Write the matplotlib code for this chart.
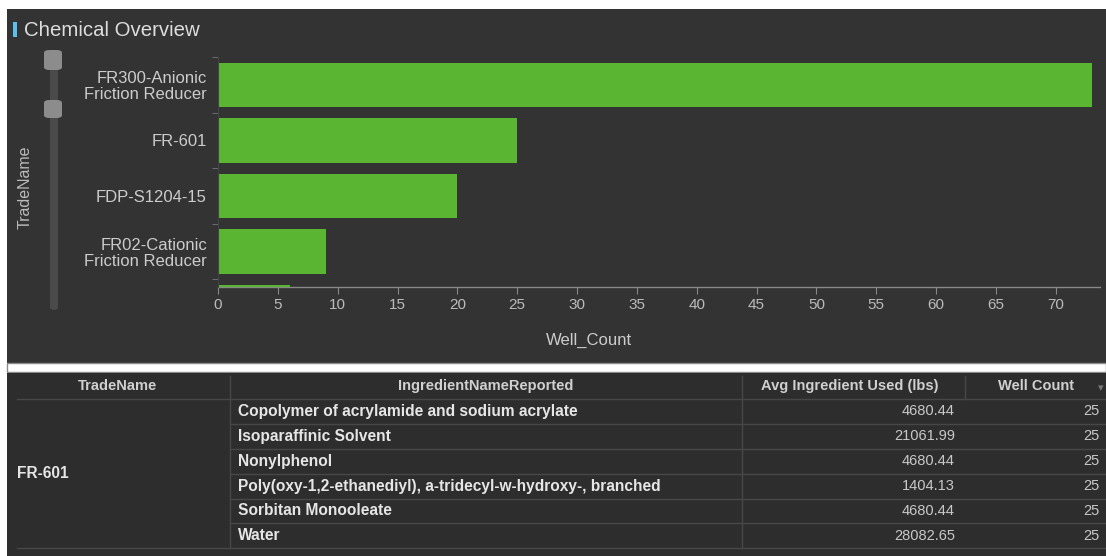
import matplotlib
matplotlib.use("Agg")
import matplotlib.pyplot as plt
from matplotlib.patches import Rectangle, FancyBboxPatch
from matplotlib.lines import Line2D

# ---------------- data ----------------
trade_names = ["FR300-Anionic\nFriction Reducer", "FR-601", "FDP-S1204-15",
               "FR02-Cationic\nFriction Reducer", "Other"]
well_counts = [73, 25, 20, 9, 6]
x_ticks = [0, 5, 10, 15, 20, 25, 30, 35, 40, 45, 50, 55, 60, 65, 70]

table_headers = ["TradeName", "IngredientNameReported", "Avg Ingredient Used (lbs)", "Well Count"]
table_trade = "FR-601"
ingredients = ["Copolymer of acrylamide and sodium acrylate",
               "Isoparaffinic Solvent",
               "Nonylphenol",
               "Poly(oxy-1,2-ethanediyl), a-tridecyl-w-hydroxy-, branched",
               "Sorbitan Monooleate",
               "Water"]
avg_used = ["4680.44", "21061.99", "4680.44", "1404.13", "4680.44", "28082.65"]
row_well_counts = ["25", "25", "25", "25", "25", "25"]

# ---------------- layout helpers ----------------
W, H = 1106, 556
fig = plt.figure(figsize=(W / 100, H / 100), dpi=100)
fig.patch.set_facecolor("white")
plt.rcParams["font.family"] = ["Liberation Sans", "DejaVu Sans"]

def fx(x):
    return x / W

def fy(y):
    return 1 - y / H

def frect(x0, y0, x1, y1, **kw):
    fig.patches.append(Rectangle((fx(x0), fy(y1)), fx(x1) - fx(x0), fy(y0) - fy(y1),
                                 transform=fig.transFigure, figure=fig, **kw))

def fline(x0, y0, x1, y1, **kw):
    fig.lines.append(Line2D([fx(x0), fx(x1)], [fy(y0), fy(y1)],
                            transform=fig.transFigure, figure=fig, **kw))

PANEL = "#333333"
TABLE_BG = "#2d2d2d"
GREEN = "#5ab532"

# panels
frect(7, 9, W, 363, facecolor=PANEL, edgecolor="none", zorder=-2)
frect(7, 363, W, 372, facecolor="white", edgecolor="#8a8a8a", linewidth=1.0, zorder=-2)
frect(7, 373, W, H, facecolor=TABLE_BG, edgecolor="none", zorder=-2)

# title
frect(13, 22, 17, 37, facecolor="#5bc0eb", edgecolor="none", zorder=1)
fig.text(fx(24), fy(30), "Chemical Overview", color="#dddddd", fontsize=14.7,
         va="center", ha="left")

# slider widget
fig.patches.append(FancyBboxPatch((fx(50), fy(310)), fx(8), fy(55) - fy(310),
                                  boxstyle="round,pad=0,rounding_size=0.004",
                                  transform=fig.transFigure, figure=fig,
                                  facecolor="#4a4a4a", edgecolor="none", zorder=1))
for (y0, y1) in [(50, 70), (100, 118)]:
    fig.patches.append(FancyBboxPatch((fx(44), fy(y1)), fx(18), fy(y0) - fy(y1),
                                      boxstyle="round,pad=0,rounding_size=0.005",
                                      transform=fig.transFigure, figure=fig,
                                      facecolor="#8c8c8c", edgecolor="none", zorder=2))

# ---------------- chart ----------------
ax_left, ax_right, ax_top, ax_bottom = 218, 1100, 57, 287
ax = fig.add_axes([fx(ax_left), fy(ax_bottom), fx(ax_right) - fx(ax_left),
                   fy(ax_top) - fy(ax_bottom)])
ax.set_zorder(5)
ax.set_facecolor("none")
ypos = list(range(len(trade_names)))
ax.barh(ypos, well_counts, height=0.8, color=GREEN, edgecolor="none", zorder=2)
ax.set_xlim(0, 73.7)
ax.set_ylim(3.64, -0.5)

ax.set_yticks(ypos[:4])
ax.set_yticklabels(trade_names[:4], color="#cccccc", fontsize=12, linespacing=1.1)
ax.set_yticks([i - 0.5 for i in range(5)], minor=True)
ax.tick_params(axis="y", which="major", length=0, pad=8)
ax.tick_params(axis="y", which="minor", length=4, color="#777777", direction="out")

ax.set_xticks(x_ticks)
ax.set_xticklabels([str(t) for t in x_ticks], color="#bbbbbb", fontsize=11)
ax.tick_params(axis="x", length=5, color="#888888", direction="out", pad=3)

for s in ["top", "right"]:
    ax.spines[s].set_visible(False)
ax.spines["left"].set_color("#444444")
ax.spines["bottom"].set_color("#888888")
ax.spines["bottom"].set_linewidth(1.0)
ax.spines["bottom"].set_zorder(1)

fig.text(fx(589), fy(340), "Well_Count", color="#cccccc", fontsize=12,
         ha="center", va="center")
fig.text(fx(25), fy(187), "TradeName", color="#bbbbbb", fontsize=11.5,
         ha="center", va="center", rotation=90)

# ---------------- table ----------------
top = 374
rh = 24.9
sep_c1, sep_c2, sep_c3 = 230, 742, 965
LINE = "#474747"
HEAD_C = "#d0d0d0"
FS_HEAD = 10.5
FS_BODY = 11.2
FS_NUM = 10.5

# header
header_y = top + rh / 2
fig.text(fx(118), fy(header_y), table_headers[0], color=HEAD_C, fontsize=FS_HEAD,
         fontweight="bold", ha="center", va="center")
fig.text(fx((sep_c1 + sep_c2) / 2), fy(header_y), table_headers[1], color=HEAD_C,
         fontsize=FS_HEAD, fontweight="bold", ha="center", va="center")
fig.text(fx(850), fy(header_y), table_headers[2], color=HEAD_C, fontsize=FS_HEAD,
         fontweight="bold", ha="center", va="center")
fig.text(fx(1036), fy(header_y), table_headers[3], color=HEAD_C, fontsize=FS_HEAD,
         fontweight="bold", ha="center", va="center")
fig.text(fx(1101), fy(header_y + 2), "\u25be", color="#777777", fontsize=8,
         ha="center", va="center", family="DejaVu Sans")

# header separators
fline(sep_c1, top + 2, sep_c1, top + rh, color=LINE, lw=1)
fline(sep_c2, top + 2, sep_c2, top + rh, color=LINE, lw=1)
fline(sep_c3, top + 2, sep_c3, top + rh, color=LINE, lw=1)
fline(17, top + rh, W, top + rh, color=LINE, lw=1)

n = len(ingredients)
body_bottom = top + rh * (n + 1)
for i in range(n):
    yc = top + rh * (i + 1.5)
    fig.text(fx(238), fy(yc), ingredients[i], color="#e6e6e6", fontsize=FS_BODY,
             fontweight="bold", ha="left", va="center")
    fig.text(fx(955), fy(yc), avg_used[i], color="#c8c8c8", fontsize=FS_NUM,
             ha="right", va="center")
    fig.text(fx(1100), fy(yc), row_well_counts[i], color="#c8c8c8", fontsize=FS_NUM,
             ha="right", va="center")
    if i < n - 1:
        fline(sep_c1, top + rh * (i + 2), W, top + rh * (i + 2), color=LINE, lw=1)

fig.text(fx(17), fy((top + rh + body_bottom) / 2), table_trade, color="#e6e6e6",
         fontsize=FS_BODY, fontweight="bold", ha="left", va="center")
fline(sep_c1, top + rh, sep_c1, body_bottom, color=LINE, lw=1)
fline(sep_c2, top + rh, sep_c2, body_bottom, color=LINE, lw=1)
fline(17, body_bottom, W, body_bottom, color=LINE, lw=1)

fig.savefig("out.png", dpi=100, facecolor=fig.get_facecolor())
